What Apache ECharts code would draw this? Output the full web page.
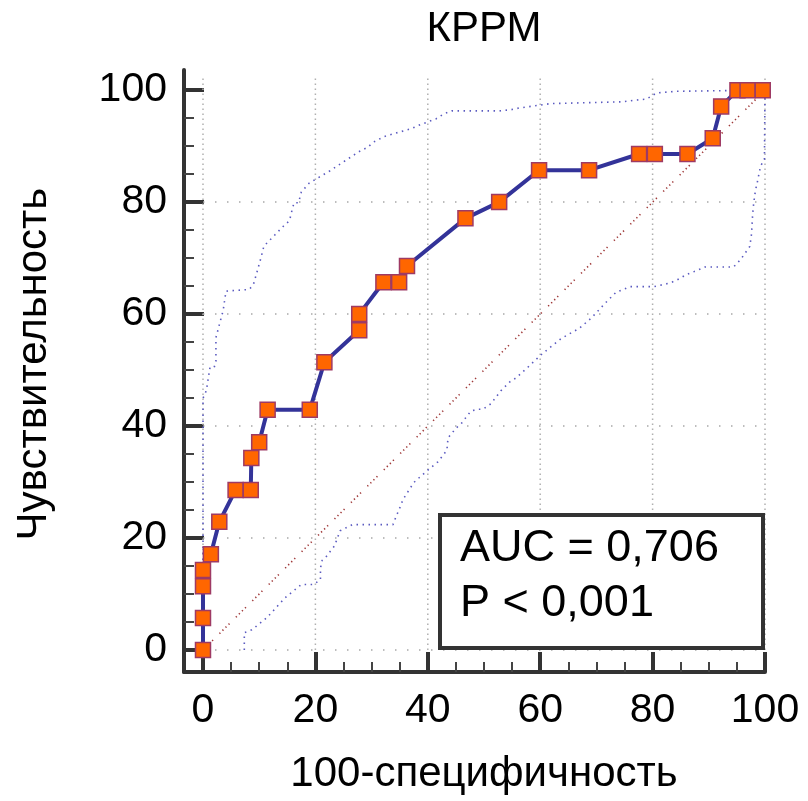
<!DOCTYPE html>
<html>
<head>
<meta charset="utf-8">
<script src="https://cdn.jsdelivr.net/npm/echarts@6/dist/echarts.min.js"></script>
<style>
html,body{margin:0;padding:0;background:#fff;}
#chart{width:808px;height:801px;}
</style>
</head>
<body>
<div id="chart"></div>
<script>
// ---- data ----
const titleText = 'КРРМ';
const xName = '100-специфичность';
const yName = 'Чувствительность';
const aucLines = ['AUC = 0,706', 'P < 0,001'];

const xTicks = [0, 20, 40, 60, 80, 100];
const yTicks = [0, 20, 40, 60, 80, 100];
const xMinorTicks = [5, 10, 15, 25, 30, 35, 45, 50, 55, 65, 70, 75, 85, 90, 95];
const yMinorTicks = [5, 10, 15, 25, 30, 35, 45, 50, 55, 65, 70, 75, 85, 90, 95];
const hGridValues = [0, 20, 40, 60, 80];
const vGridValues = [0, 20, 40, 60, 80, 100];

const rocX = [0, 0, 0, 0, 1.4, 2.9, 5.8, 8.5, 8.6, 10.0, 11.5, 19.0, 21.6, 27.8, 27.8, 32.1, 34.9, 36.3, 46.7, 52.7, 59.8, 68.7, 77.6, 80.4, 86.2, 90.7, 92.2, 95.1, 96.9, 99.6];
const rocY = [0, 5.7, 11.4, 14.3, 17.1, 22.9, 28.6, 28.6, 34.3, 37.1, 42.9, 42.9, 51.4, 57.1, 60.0, 65.7, 65.7, 68.6, 77.1, 80.0, 85.7, 85.7, 88.6, 88.6, 88.6, 91.4, 97.1, 100, 100, 100];

const upX = [0, 0, 0.4, 0.7, 0.9, 1.25, 2.0, 2.3, 2.3, 3.6, 3.9, 4.1, 8.2, 8.95, 9.55, 10.3, 10.85, 11.4, 14.2, 15.4, 15.7, 16.2, 17.0, 17.5, 18.9, 22.6, 25.0, 27.9, 29.3, 30.3, 32.2, 34.9, 37.0, 38.8, 40.2, 41.5, 42.9, 44.3, 52.7, 54.8, 56.2, 58.3, 61.9, 73.8, 74.6, 76.7, 78.9, 80.7, 84.2, 100];
const upY = [0, 45.0, 45.7, 47.0, 48.3, 50.5, 50.5, 51.6, 55.8, 60.7, 62.8, 64.1, 64.4, 65.2, 67.3, 70.0, 72.2, 72.7, 75.6, 76.7, 78.0, 79.9, 79.9, 81.8, 83.4, 85.6, 87.2, 89.1, 89.8, 90.7, 91.7, 92.5, 93.1, 93.9, 94.4, 94.9, 95.8, 96.3, 96.3, 96.5, 96.8, 97.1, 97.6, 97.9, 97.9, 98.2, 98.4, 99.5, 99.8, 100];

const loX = [7.35, 7.35, 8.7, 11.4, 14.3, 14.8, 17.5, 19.6, 20.9, 20.9, 21.2, 21.8, 23.4, 24.4, 26.6, 33.8, 34.3, 35.1, 35.6, 37.5, 38.6, 40.2, 41.8, 43.4, 43.6, 45.0, 46.1, 46.9, 47.7, 48.9, 49.8, 51.4, 51.7, 53.0, 54.6, 55.7, 57.8, 60.0, 61.6, 63.7, 65.6, 66.9, 69.1, 71.9, 73.5, 76.0, 80.2, 82.9, 84.2, 86.1, 87.4, 89.3, 94.4, 95.7, 97.3, 97.6, 97.8, 98.0, 98.3, 98.6, 99.2, 99.9, 100];
const loY = [0, 3.1, 3.6, 5.8, 9.0, 9.5, 11.7, 11.7, 12.5, 14.6, 16.0, 16.5, 18.6, 21.3, 22.4, 22.4, 23.7, 25.6, 26.9, 29.9, 30.9, 32.3, 33.6, 35.7, 37.9, 39.6, 40.6, 41.7, 42.7, 43.0, 43.0, 44.1, 44.6, 46.3, 47.9, 48.6, 50.5, 52.6, 53.9, 55.6, 56.7, 57.4, 59.3, 62.3, 63.9, 64.9, 64.9, 65.5, 66.0, 67.1, 67.6, 68.4, 68.4, 69.8, 72.1, 74.3, 77.8, 79.9, 82.1, 83.4, 86.4, 87.7, 100];

const diagX = [0, 100];
const diagY = [0, 100];

// ---- build ----
const zip = (a, b) => a.map((v, i) => [v, b[i]]);
const FONT = '"Liberation Sans", Arial, sans-serif';
// axis extents: axis lines sit a little outside the 0..100 data box
const X_MIN = -3.38, X_MAX = 100, Y_MIN = -3.93, Y_MAX = 103.6;

function majorAxis(extra) {
  return Object.assign({
    type: 'value',
    axisLine: {show: true, onZero: false, lineStyle: {color: '#333', width: 4}},
    splitLine: {show: false}
  }, extra);
}
function minorAxis(extra) {
  return Object.assign({
    type: 'value',
    axisLine: {show: false, onZero: false},
    splitLine: {show: false},
    axisLabel: {show: false}
  }, extra);
}

const series = [];
vGridValues.forEach(v => series.push({
  type: 'line', data: [[v, 0], [v, 102.5]], symbol: 'none', silent: true, z: 1, clip: false,
  lineStyle: {color: '#b0b0b0', width: 1.5, type: [1.5, 3.5]}
}));
hGridValues.forEach(v => series.push({
  type: 'line', data: [[0, v], [102.3, v]], symbol: 'none', silent: true, z: 1, clip: false,
  lineStyle: {color: '#a8a8a8', width: 1.5, type: [1.5, 10.5]}
}));
series.push(
  {
    type: 'line', data: zip(diagX, diagY), symbol: 'none', z: 2, clip: false,
    lineStyle: {color: '#a03a3a', width: 1.6, type: [1.3, 3, 1.3, 3, 1.3, 3, 1.3, 9]}
  },
  {
    type: 'line', data: zip(upX, upY), symbol: 'none', z: 2, clip: false,
    lineStyle: {color: '#5a5ac0', width: 1.6, type: [1.5, 4.5]}
  },
  {
    type: 'line', data: zip(loX, loY), symbol: 'none', z: 2, clip: false,
    lineStyle: {color: '#5a5ac0', width: 1.6, type: [1.5, 4.5]}
  },
  {
    type: 'line', data: zip(rocX, rocY), z: 5, clip: false,
    symbol: 'rect', symbolSize: 15, showAllSymbol: true,
    lineStyle: {color: '#333399', width: 4},
    itemStyle: {color: '#ff6600', borderColor: '#9e3a64', borderWidth: 1.5}
  }
);

const chart = echarts.init(document.getElementById('chart'), null, {renderer: 'canvas'});
chart.setOption({
  animation: false,
  grid: {left: 184, right: 43, top: 70, bottom: 129},
  xAxis: [
    majorAxis({min: X_MIN, max: X_MAX, position: 'bottom',
      axisTick: {show: true, inside: true, length: 20, customValues: xTicks, lineStyle: {color: '#333', width: 4}},
      axisLabel: {show: true, color: '#000', fontSize: 41, fontFamily: FONT, margin: 18, customValues: xTicks}}),
    minorAxis({min: X_MIN, max: X_MAX, position: 'bottom',
      axisTick: {show: true, inside: true, length: 10, customValues: xMinorTicks, lineStyle: {color: '#444', width: 2}}})
  ],
  yAxis: [
    majorAxis({min: Y_MIN, max: Y_MAX, position: 'left',
      axisTick: {show: true, inside: true, length: 20, customValues: yTicks, lineStyle: {color: '#333', width: 4}},
      axisLabel: {show: true, color: '#000', fontSize: 41, fontFamily: FONT, margin: 17, customValues: yTicks}}),
    minorAxis({min: Y_MIN, max: Y_MAX, position: 'left',
      axisTick: {show: true, inside: true, length: 10, customValues: yMinorTicks, lineStyle: {color: '#444', width: 2}}})
  ],
  series: series
});

const p0 = chart.convertToPixel({gridIndex: 0}, [0, 0]);
const p1 = chart.convertToPixel({gridIndex: 0}, [100, 100]);
const cx = (p0[0] + p1[0]) / 2, cy = (p0[1] + p1[1]) / 2;
chart.setOption({
  graphic: [
    {type: 'text', z: 10, x: cx, y: 29,
      style: {text: titleText, fill: '#000', font: '42px ' + FONT, textAlign: 'center', textVerticalAlign: 'middle'}},
    {type: 'text', z: 10, x: cx, y: 774,
      style: {text: xName, fill: '#000', font: '42px ' + FONT, textAlign: 'center', textVerticalAlign: 'middle'}},
    {type: 'text', z: 10, x: 34, y: cy - 6, rotation: Math.PI / 2,
      style: {text: yName, fill: '#000', font: '42px ' + FONT, textAlign: 'center', textVerticalAlign: 'middle'}},
    {type: 'rect', z: 20, shape: {x: 440, y: 515, width: 323, height: 133},
      style: {fill: '#fff', stroke: '#333', lineWidth: 4}},
    {type: 'text', z: 21, x: 460, y: 549,
      style: {text: aucLines[0], fill: '#000', font: '45px ' + FONT, textAlign: 'left', textVerticalAlign: 'middle'}},
    {type: 'text', z: 21, x: 460, y: 604,
      style: {text: aucLines[1], fill: '#000', font: '45px ' + FONT, textAlign: 'left', textVerticalAlign: 'middle'}}
  ]
});
</script>
</body>
</html>
